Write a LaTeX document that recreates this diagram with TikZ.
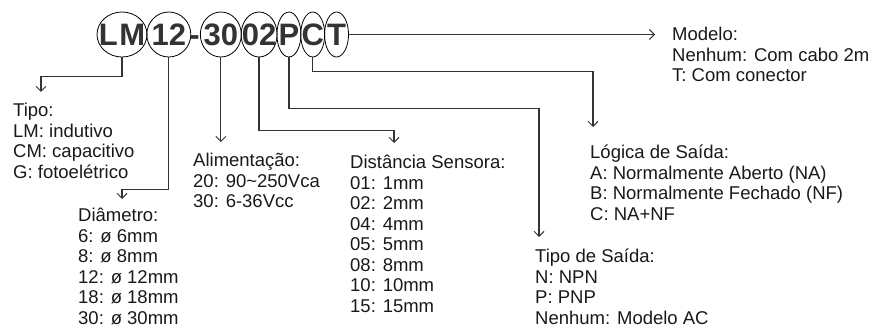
\documentclass[tikz,border=0pt]{standalone}
\usepackage{fontspec}
\setmainfont{Liberation Sans}
\usetikzlibrary{shapes.geometric, arrows.meta, positioning}
\tikzset{
  code/.style={ellipse, draw=black, line width=0.8pt, inner sep=0pt,
               minimum height=45pt, text=black!80,
               font=\bfseries\fontsize{31}{32}\selectfont},
  dashmark/.style={inner sep=0pt, text=black!80, font=\bfseries\fontsize{31}{32}\selectfont},
  desc/.style={anchor=north west, align=left, inner sep=0pt, text=black!90,
               font=\fontsize{18.5}{20.5}\selectfont},
  link/.style={-{Straight Barb[length=5pt,width=10pt,line width=0.9pt]},
               line width=1.3pt, draw=black!80},
}
\newcommand{\cz}[1]{\makebox[0pt]{#1}}

\begin{document}
\begin{tikzpicture}[x=1pt, y=-1pt]
  \useasboundingbox (0,0) rectangle (873,331);

  % code letters
  \node[code, minimum width=50pt] (lm) at (122,34.5) {\cz{L\kern1.5pt M}};
  \node[code, minimum width=44pt, right=-1pt of lm] (d12) {\cz{12}};
  \node[dashmark, anchor=base west, xshift=-2pt] (dash) at (d12.east |- d12.base) {-};
  \node[code, minimum width=41pt, anchor=west] (d30) at (dash.east |- d12.center) {\cz{30}};
  \node[code, minimum width=36pt, right=-1pt of d30] (d02) {\cz{02}};
  \node[code, minimum width=24pt, right=-1pt of d02] (dP)  {\cz{P}};
  \node[code, minimum width=24pt, right=-1pt of dP]  (dC)  {\cz{C}};
  \node[code, minimum width=24pt, right=-1pt of dC]  (dT)  {\cz{T}};

  % descriptions
  \node[desc] (tipo) at (13,103) {Tipo:\\LM: indutivo\\CM: capacitivo\\G: fotoelétrico};
  \node[desc] (diam) at (78,208) {Diâmetro:\\6: ø 6mm\\8: ø 8mm\\12: ø 12mm\\18: ø 18mm\\30: ø 30mm};
  \node[desc] (alim) at (193,153) {Alimentação:\\20: 90\textasciitilde250Vca\\30: 6-36Vcc};
  \node[desc] (dist) at (350,155) {Distância Sensora:\\01: 1mm\\02: 2mm\\04: 4mm\\05: 5mm\\08: 8mm\\10: 10mm\\15: 15mm};
  \node[desc] (saida) at (535,249) {Tipo de Saída:\\N: NPN\\P: PNP\\Nenhum: Modelo AC};
  \node[desc] (logica) at (590,145) {Lógica de Saída:\\A: Normalmente Aberto (NA)\\B: Normalmente Fechado (NF)\\C: NA+NF};
  \node[desc] (modelo) at (672,27) {Modelo:\\Nenhum: Com cabo 2m\\T: Com conector};

  % arrow ends
  \coordinate (tipoTip)   at (41,92);
  \coordinate (diamTip)   at (122,199);
  \coordinate (alimTip)   at (218,142);
  \coordinate (distTip)   at (394,143);
  \coordinate (saidaTip)  at (539,237);
  \coordinate (logicaTip) at (593,127);
  \coordinate (modeloTip) at (655,34.5);

  \draw[link] (lm.south) -- ++(0,19) -| (tipoTip);
  \draw[link] (d12.south) -- ++(0,132) -| (diamTip);
  \draw[link] (d30.south) -- (d30.south |- alimTip);
  \draw[link] (d02.south) -- ++(0,73) -| (distTip);
  \draw[link] (dP.south) -- ++(0,51) -| (saidaTip);
  \draw[link] (dC.south) -- ++(0,14) -| (logicaTip);
  \draw[link] (dT.east) -- (dT.east -| modeloTip);
\end{tikzpicture}
\end{document}
